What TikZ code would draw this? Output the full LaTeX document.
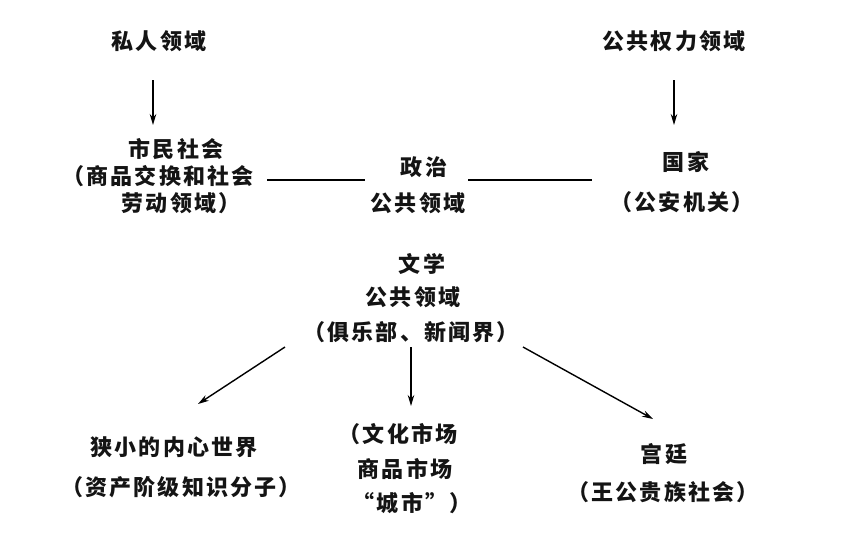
\documentclass[tikz,border=0pt]{standalone}
\usepackage{fontspec}
\newfontfamily\cjk{Noto Sans CJK SC}[LetterSpace=10]
\usetikzlibrary{arrows.meta}
\tikzset{
  lbl/.style={inner sep=0pt, font=\cjk\bfseries\fontsize{22pt}{26pt}\selectfont, text=black!92},
  arr/.style={line width=1.4pt, -{Stealth[length=11pt,width=6.5pt]}},
  ln/.style={line width=1.6pt}
}
\begin{document}
\begin{tikzpicture}[x=1pt,y=-1pt]
\useasboundingbox[fill=white] (0,0) rectangle (866,550);
% top
\node[lbl] (pri) at (159,41) {私人领域};
\node[lbl] (pub) at (674,41) {公共权力领域};
% civil society
\node[lbl] (cs1) at (176,149) {市民社会};
\node[lbl] (cs2) at (158,176) {（商品交换和社会};
\node[lbl] (cs3) at (181,203) {劳动领域）};
% politics
\node[lbl] (pol1) at (424,167) {政治};
\node[lbl] (pol2) at (418,203) {公共领域};
% state
\node[lbl] (st1) at (686,162) {国家};
\node[lbl] (st2) at (682,202) {（公安机关）};
% literary
\node[lbl] (lit1) at (422,264) {文学};
\node[lbl] (lit2) at (413,297) {公共领域};
\node[lbl] (lit3) at (411,332) {（俱乐部、新闻界）};
% bottom
\node[lbl] (in1) at (174,447) {狭小的内心世界};
\node[lbl] (in2) at (181,487) {（资产阶级知识分子）};
\node[lbl] (mk1) at (398,434) {（文化市场};
\node[lbl] (mk2) at (405,469) {商品市场};
\node[lbl] (mk3) at (412,503) {“城市”）};
\node[lbl] (ct1) at (664,454) {宫廷};
\node[lbl] (ct2) at (663,492) {（王公贵族社会）};
% connector endpoints
\coordinate (a1s) at (153,80);  \coordinate (a1e) at (153,125);
\coordinate (a2s) at (674,80);  \coordinate (a2e) at (674,125);
\coordinate (l1s) at (267,180); \coordinate (l1e) at (365,180);
\coordinate (l2s) at (468,180); \coordinate (l2e) at (592,180);
\coordinate (b1s) at (285,347); \coordinate (b1e) at (198,404);
\coordinate (b2s) at (411,347); \coordinate (b2e) at (411,406);
\coordinate (b3s) at (523,347); \coordinate (b3e) at (653,419);
\draw[arr] (a1s) -- (a1e);
\draw[arr] (a2s) -- (a2e);
\draw[ln] (l1s) -- (l1e);
\draw[ln] (l2s) -- (l2e);
\draw[arr] (b1s) -- (b1e);
\draw[arr] (b2s) -- (b2e);
\draw[arr] (b3s) -- (b3e);
\end{tikzpicture}
\end{document}
